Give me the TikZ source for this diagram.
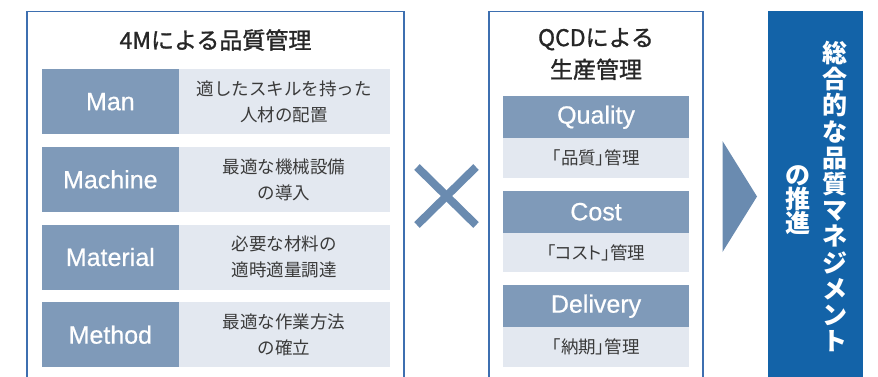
\documentclass[tikz,border=0pt]{standalone}
\usepackage{fontspec}
\setmainfont{Noto Sans CJK JP}
\newfontfamily\latinfont[FakeBold=0.6]{Liberation Sans}
\newfontfamily\medfont[FakeBold=1.2]{Noto Sans CJK JP}
\newfontfamily\paltfont[RawFeature=+palt]{Noto Sans CJK JP}
\definecolor{framec}{HTML}{3D6FB0}
\definecolor{darkc}{HTML}{7F9AB9}
\definecolor{lightc}{HTML}{E3E8F0}
\definecolor{txtc}{HTML}{3A3A3A}
\definecolor{markc}{HTML}{6A8BB0}
\definecolor{deepc}{HTML}{1363A8}
\begin{document}
\begin{tikzpicture}[x=1pt,y=-1pt,
  framebox/.style={draw=framec, line width=1.8pt},
  hdr/.style={fill=darkc, text=white, font=\latinfont\fontsize{25}{28}\selectfont,
    inner sep=0pt, minimum width=136.3pt, minimum height=65pt, anchor=north west},
  desc/.style={fill=lightc, text=txtc, font=\fontsize{17.5}{26}\selectfont, align=center,
    inner sep=0pt, minimum width=211.2pt, minimum height=65pt, anchor=north west},
  qhdr/.style={fill=darkc, text=white, font=\latinfont\fontsize{25}{28}\selectfont,
    inner sep=0pt, minimum width=186.3pt, minimum height=42pt, anchor=north west},
  qdesc/.style={fill=lightc, text=txtc, font=\paltfont\fontsize{17.5}{26}\selectfont,
    inner sep=0pt, minimum width=186.3pt, minimum height=39.5pt, anchor=north west},
  titletext/.style={text=black!85, font=\medfont\fontsize{23}{32}\selectfont, align=center},
  vtext/.style={text=white, font=\bfseries\fontsize{25}{26.2}\selectfont, align=center, inner sep=0pt},
  crossline/.style={draw=markc, line width=8pt}
]
\useasboundingbox (0,0) rectangle (878,376);
\begin{scope}
\clip (0,0) rectangle (878,376);
% outer frames
\draw[framebox] (27,11.5) rectangle (404.3,400);
\draw[framebox] (489,11.5) rectangle (703,400);
% result box
\fill[deepc] (768,11) rectangle (863,400);
\end{scope}

% 4M block
\node[titletext] (t1) at (215.5,40) {4Mによる品質管理};
\node[hdr] (man) at (42,69) {Man};
\node[desc] (mand) at (178.3,69) {適したスキルを持った\\人材の配置};
\node[hdr] (mach) at (42,146.7) {Machine};
\node[desc] (machd) at (178.3,146.7) {最適な機械設備\\の導入};
\node[hdr] (mat) at (42,224.3) {Material};
\node[desc] (matd) at (178.3,224.3) {必要な材料の\\適時適量調達};
\node[hdr] (meth) at (42,302) {Method};
\node[desc] (methd) at (178.3,302) {最適な作業方法\\の確立};

% cross
\coordinate (c1) at (417,167);
\coordinate (c2) at (476,225);
\coordinate (c3) at (476,167);
\coordinate (c4) at (417,225);
\draw[crossline] (c1) -- (c2);
\draw[crossline] (c3) -- (c4);

% QCD block
\node[titletext] (t2) at (596,54) {QCDによる\\生産管理};
\node[qhdr] (q) at (502.7,96) {Quality};
\node[qdesc] (qd) at (502.7,138) {「品質」管理};
\node[qhdr] (c) at (502.7,190.5) {Cost};
\node[qdesc] (cd) at (502.7,232.5) {「コスト」管理};
\node[qhdr] (d) at (502.7,285) {Delivery};
\node[qdesc] (dd) at (502.7,327) {「納期」管理};

% arrow
\coordinate (a1) at (722.5,141);
\coordinate (a2) at (722.5,252);
\coordinate (a3) at (757,196.5);
\fill[markc] (a1) -- (a3) -- (a2) -- cycle;

% vertical text
\node[vtext] (v1) at (835,196.5) {総\\合\\的\\な\\品\\質\\マ\\ネ\\ジ\\メ\\ン\\ト};
\node[vtext, font=\bfseries\fontsize{25}{24}\selectfont] (v2) at (798,200) {の\\推\\進};
\end{tikzpicture}
\end{document}
